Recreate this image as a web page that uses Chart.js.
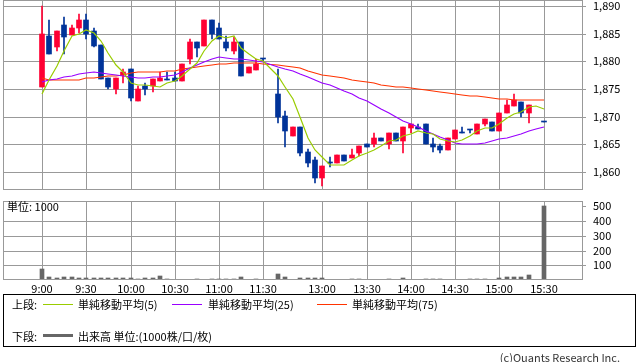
<!DOCTYPE html>
<html>
<head>
<meta charset="utf-8">
<script src="https://cdn.jsdelivr.net/npm/chart.js@4"></script>
<style>
  body { margin:0; width:638px; height:362px; overflow:hidden; position:relative; background:#fff;
         font-family:"Noto Sans CJK JP", "DejaVu Sans", sans-serif; font-size:11px; color:#000; }
  canvas { position:absolute; left:0; }
  .t { position:absolute; white-space:nowrap; line-height:13px; }
  .ln { position:absolute; }
</style>
</head>
<body>
<canvas id="price" width="638" height="190" style="top:0"></canvas>
<canvas id="vol" width="638" height="100" style="top:195px"></canvas>

<div class="t" style="left:7px;top:200px">単位: 1000</div>

<div style="position:absolute;left:3px;top:294px;width:633px;height:53px;box-sizing:border-box;border:1px solid #000"></div>
<div class="t" style="left:12px;top:298px">上段:</div>
<div class="ln" style="left:43px;top:304px;width:30px;height:1px;background:#99cc00"></div>
<div class="t" style="left:78px;top:298px">単純移動平均(5)</div>
<div class="ln" style="left:172px;top:304px;width:30px;height:1px;background:#9900ff"></div>
<div class="t" style="left:208px;top:298px">単純移動平均(25)</div>
<div class="ln" style="left:317px;top:304px;width:30px;height:1px;background:#ff3300"></div>
<div class="t" style="left:352px;top:298px">単純移動平均(75)</div>
<div class="t" style="left:12px;top:330px">下段:</div>
<div class="ln" style="left:43px;top:334px;width:30px;height:3px;background:#666"></div>
<div class="t" style="left:78px;top:330px">出来高 単位:(1000株/口/枚)</div>

<div class="t" style="right:18px;top:351px;color:#333">(c)Quants Research Inc.</div>

<script>
const tickSlots  = [0, 6, 12, 18, 24, 30, 38, 44, 50, 56, 62, 68];
const tickLabels = ["9:00", "9:30", "10:00", "10:30", "11:00", "11:30", "13:00", "13:30", "14:00", "14:30", "15:00", "15:30"];
const priceTicks = [1860, 1865, 1870, 1875, 1880, 1885, 1890];
const volTicks   = [100, 200, 300, 400, 500];

// one slot per 5 minutes, slot 31 = lunch break, slot 67 = no trade
const opens = [1875.4,1884.6,1882.5,1886.6,1884.75,1886.0,1887.5,1885.5,1882.9,1877.0,
  1874.9,1877.5,1878.6,1872.9,1875.5,1875.5,1876.5,1876.6,1877.0,1876.5,
  1880.5,1883.5,1882.8,1887.5,1886.0,1883.5,1881.85,1883.5,1877.9,1878.4,
  1880.5,null,1874.1,1870.1,1866.5,1868.1,1863.5,1862.1,1858.9,1861.5,
  1861.5,1863.0,1862.55,1863.45,1865.0,1865.0,1866.1,1865.0,1867.0,1865.5,
  1868.0,1868.1,1868.65,1865.0,1864.6,1864.0,1865.95,1867.0,1867.5,1866.9,
  1868.6,1869.05,1867.45,1870.6,1871.95,1872.6,1870.6,null,1869.0];
const highs = [1890.0,1887.5,1885.5,1888.1,1886.6,1888.55,1888.55,1886.0,1882.9,1877.0,
  1877.0,1878.6,1878.6,1875.5,1876.1,1876.85,1878.1,1878.1,1878.1,1879.5,
  1884.0,1883.5,1887.5,1887.5,1887.0,1884.6,1884.4,1883.5,1879.0,1880.5,
  1880.5,null,1878.6,1871.0,1868.1,1868.1,1864.1,1862.7,1861.05,1862.7,
  1863.0,1863.0,1864.1,1864.6,1865.0,1867.0,1866.1,1867.0,1867.0,1868.1,
  1868.6,1868.6,1868.65,1866.1,1865.0,1866.1,1867.55,1868.05,1867.5,1868.65,
  1869.5,1869.05,1870.6,1873.0,1874.1,1872.6,1872.1,null,1869.0];
const lows = [1875.4,1881.3,1881.9,1881.4,1884.75,1885.1,1884.0,1882.5,1876.85,1874.9,
  1874.0,1876.0,1872.9,1872.9,1873.9,1874.5,1876.5,1876.6,1876.4,1876.5,
  1879.45,1880.8,1882.8,1884.0,1884.0,1881.85,1881.4,1877.4,1877.9,1878.4,
  1880.0,null,1868.9,1864.5,1866.5,1862.9,1860.9,1858.0,1857.5,1860.9,
  1861.5,1861.95,1862.55,1862.85,1864.5,1864.5,1865.5,1864.1,1865.5,1863.45,
  1867.0,1867.8,1865.0,1863.5,1863.4,1864.0,1865.95,1867.0,1866.95,1866.9,
  1868.2,1867.45,1867.45,1870.6,1871.95,1870.0,1868.9,null,1869.0];
const closes = [1884.9,1881.3,1885.5,1884.4,1886.0,1887.5,1884.9,1882.8,1876.85,1875.3,
  1877.0,1878.1,1873.4,1874.9,1874.9,1876.85,1877.0,1876.6,1876.4,1879.5,
  1883.5,1882.45,1887.5,1884.9,1884.0,1882.45,1883.5,1877.4,1879.0,1879.45,
  1880.5,null,1870.0,1867.4,1868.1,1863.45,1861.5,1858.9,1861.05,1861.5,
  1863.0,1861.95,1863.0,1864.6,1864.5,1866.1,1865.5,1867.0,1865.5,1868.1,
  1868.6,1867.8,1865.0,1864.55,1864.0,1866.05,1867.55,1867.0,1867.5,1868.65,
  1869.5,1867.45,1870.6,1872.1,1873.0,1870.6,1872.1,null,1869.0];

const ma5 = [1874.0,1876.55,1879.2,1881.8,1884.5,1884.9,1885.7,1885.1,1883.6,1881.5,
  1879.4,1878.0,1876.1,1875.7,1875.7,1875.6,1875.4,1876.05,1876.35,1877.3,
  1878.6,1879.7,1881.9,1883.6,1884.5,1884.3,1884.5,1882.45,1881.3,1880.4,
  1880.0,null,1877.3,1875.3,1873.1,1869.9,1866.1,1863.9,1862.6,1861.3,
  1861.2,1861.3,1862.1,1862.8,1863.4,1864.0,1864.7,1865.5,1865.7,1866.4,
  1866.9,1867.4,1867.0,1866.8,1866.0,1865.5,1865.4,1865.8,1866.4,1867.35,
  1868.0,1868.0,1868.7,1869.7,1870.5,1870.75,1871.7,1871.9,1871.3];
const ma25 = [1876.3,1876.55,1876.8,1877.1,1877.4,1877.7,1877.9,1878.0,1877.8,1877.7,
  1877.5,1877.3,1877.15,1877.0,1877.0,1877.1,1877.15,1877.4,1877.6,1878.1,
  1878.7,1879.3,1879.9,1880.4,1880.7,1880.65,1880.5,1880.35,1880.2,1880.05,
  1879.8,null,1879.0,1878.65,1878.2,1877.75,1877.2,1876.6,1876.1,1875.65,
  1875.2,1874.55,1874.0,1873.4,1872.75,1872.1,1871.35,1870.7,1870.0,1869.25,
  1868.65,1868.05,1867.45,1866.85,1866.25,1865.7,1865.15,1865.0,1865.0,1865.0,
  1865.2,1865.5,1865.9,1866.2,1866.5,1866.9,1867.3,1867.75,1868.05];
const ma75 = [1876.9,1876.7,1876.7,1876.7,1876.7,1876.7,1876.9,1877.0,1877.15,1877.3,
  1877.4,1877.6,1877.9,1878.0,1878.05,1878.1,1878.15,1878.25,1878.3,1878.55,
  1878.8,1879.0,1879.2,1879.4,1879.55,1879.6,1879.7,1879.7,1879.7,1879.7,
  1879.6,null,1879.3,1879.15,1878.95,1878.75,1878.3,1877.9,1877.6,1877.4,
  1877.2,1876.9,1876.7,1876.4,1876.2,1876.0,1875.75,1875.5,1875.4,1875.3,
  1875.1,1875.0,1874.8,1874.55,1874.4,1874.2,1874.1,1873.9,1873.8,1873.65,
  1873.5,1873.35,1873.2,1873.1,1873.0,1873.0,1873.0,1873.0,1873.0];

const volume = [72,20,14,20,20,14,14,14,14,14,
  14,14,16,5,12,12,25,10,3,3,
  3,10,3,8,10,10,5,23,2,10,
  2,null,38,18,2,12,12,16,12,3,
  3,3,10,10,3,3,3,8,3,15,
  3,3,10,10,10,3,3,3,10,10,
  10,3,16,18,18,18,34,null,500];

const RED = '#ff0033', BLUE = '#003399', GRID = '#999999';
const FONT = '"Noto Sans CJK JP", "DejaVu Sans", sans-serif';
const X_MIN = -5.287, X_MAX = 73.34;

Chart.defaults.font.family = FONT;
Chart.defaults.font.size = 11;
Chart.defaults.color = '#000';

const slots = opens.map((v, i) => i).filter(i => opens[i] != null);
const candleColor = slots.map(i => closes[i] > opens[i] ? RED : BLUE);
const pts = arr => arr.map((v, i) => v == null ? null : {x: i, y: v}).filter(Boolean);
const thousands = v => String(v).replace(/\B(?=(\d{3})+$)/, ',');

const frame = {
  id: 'frame',
  afterDraw(c) {
    const a = c.chartArea, g = c.ctx;
    g.save();
    g.strokeStyle = GRID;
    g.lineWidth = 1;
    g.strokeRect(a.left + 0.5, a.top + 0.5, a.right - a.left - 1, a.bottom - a.top - 1);
    g.restore();
  }
};

function xAxis(showLabels) {
  return {
    type: 'linear', min: X_MIN, max: X_MAX, offset: false, alignToPixels: true,
    afterBuildTicks: s => { s.ticks = tickSlots.map(v => ({value: v})); },
    afterFit: s => { s.height = showLabels ? 15 : 0; s.paddingLeft = 0; s.paddingRight = 0; },
    ticks: {display: showLabels, autoSkip: false, maxRotation: 0, padding: 2,
            callback: v => tickLabels[tickSlots.indexOf(v)]},
    grid: {color: GRID, drawTicks: false, offset: false},
    border: {display: false}
  };
}

function maLine(data, color) {
  return {type: 'line', data: pts(data), borderColor: color, borderWidth: 1.2,
          pointRadius: 0, tension: 0, fill: false};
}

new Chart(document.getElementById('price'), {
  type: 'bar',
  data: {
    datasets: [
      maLine(ma5, '#99cc00'),
      maLine(ma25, '#9900ff'),
      maLine(ma75, '#ff3300'),
      { data: slots.map(i => ({x: i, y: [opens[i], closes[i]]})),
        backgroundColor: candleColor, barThickness: 5, minBarLength: 1, grouped: false },
      { data: slots.map(i => ({x: i, y: [lows[i], highs[i]]})),
        backgroundColor: candleColor, barThickness: 1, grouped: false }
    ]
  },
  options: {
    responsive: false, animation: false,
    layout: {padding: {left: 3, right: 0, top: 0, bottom: 0}},
    plugins: {legend: {display: false}, tooltip: {enabled: false}},
    scales: {
      x: xAxis(false),
      y: {
        position: 'right', min: 1856.7, max: 1891.1, alignToPixels: true,
        afterBuildTicks: s => { s.ticks = priceTicks.map(v => ({value: v})); },
        afterFit: s => { s.width = 55; s.paddingTop = 0; s.paddingBottom = 0; },
        ticks: {padding: 7, callback: v => thousands(v)},
        grid: {color: GRID, tickLength: 3},
        border: {display: false}
      }
    }
  },
  plugins: [frame]
});

new Chart(document.getElementById('vol'), {
  type: 'bar',
  data: {
    datasets: [{
      data: pts(volume), backgroundColor: '#666666', barThickness: 4, grouped: false
    }]
  },
  options: {
    responsive: false, animation: false,
    layout: {padding: {left: 3, right: 0, top: 6, bottom: 0}},
    plugins: {legend: {display: false}, tooltip: {enabled: false}},
    scales: {
      x: xAxis(true),
      y: {
        position: 'right', min: 0, max: 537, alignToPixels: true,
        afterBuildTicks: s => { s.ticks = volTicks.map(v => ({value: v})); },
        afterFit: s => { s.width = 55; s.paddingTop = 0; s.paddingBottom = 0; },
        ticks: {padding: 7},
        grid: {color: c => c.tick && c.tick.value === 500 ? 'rgba(0,0,0,0)' : GRID,
               tickColor: GRID, tickLength: 3},
        border: {display: false}
      }
    }
  },
  plugins: [frame]
});
</script>
</body>
</html>
